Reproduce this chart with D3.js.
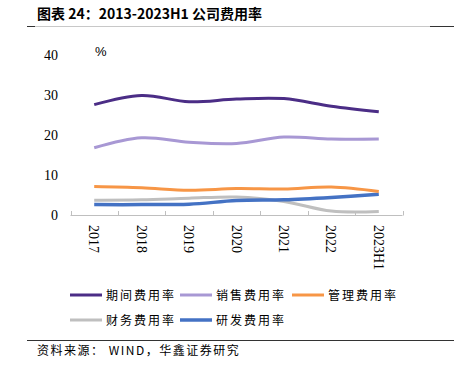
<html>
<head>
<meta charset="utf-8">
<style>
body{margin:0;background:#fff;}
svg{display:block;}
.title{font-family:"Noto Sans CJK SC",sans-serif;font-weight:bold;font-size:14px;fill:#000;}
.num{font-family:"Liberation Serif","Times New Roman",serif;font-size:14px;fill:#000;}
.leg{font-family:"Noto Sans CJK SC",sans-serif;font-size:12px;letter-spacing:2px;fill:#000;}
.src{font-family:"Noto Sans CJK SC",sans-serif;font-size:12px;letter-spacing:1.5px;fill:#000;}
</style>
<script src="https://d3js.org/d3.v7.min.js"></script>
</head>
<body>
<svg id="chart" width="454" height="370"></svg>
<script>
// data
const years = ['2017','2018','2019','2020','2021','2022','2023H1'];
const seriesNames = ['期间费用率','销售费用率','管理费用率','财务费用率','研发费用率'];
const periodRate  = [27.6, 29.9, 28.3, 29.0, 29.1, 27.2, 25.8];
const salesRate   = [16.8, 19.3, 18.2, 17.9, 19.5, 19.0, 19.0];
const adminRate   = [7.1, 6.8, 6.2, 6.6, 6.5, 7.0, 5.9];
const financeRate = [3.7, 3.8, 4.2, 4.5, 3.4, 1.0, 0.9];
const rdRate      = [2.6, 2.6, 2.7, 3.6, 3.8, 4.4, 5.2];
const yTicks = [0, 10, 20, 30, 40];

const colors = ['#4B2D86','#A898D4','#F79646','#BFBFBF','#4472C4'];
const widths = [3, 3, 3, 3, 3.5];
const allSeries = [periodRate, salesRate, adminRate, financeRate, rdRate];

const svg = d3.select('#chart');

// title + rules
svg.append('text').attr('class','title').attr('x',37).attr('y',19)
  .text('图表 24：2013-2023H1 公司费用率');
svg.append('line').attr('x1',35).attr('x2',430).attr('y1',26.5).attr('y2',26.5).attr('stroke','#c8c8c8');
svg.append('line').attr('x1',27).attr('x2',35).attr('y1',26.5).attr('y2',26.5).attr('stroke','#333');
svg.append('line').attr('x1',430).attr('x2',454).attr('y1',26.5).attr('y2',26.5).attr('stroke','#333');

const x = d3.scaleBand().domain(years).range([70.5, 402.5]);
const y = d3.scaleLinear().domain([0, 40]).range([215, 55]);

// y labels (no axis line)
svg.selectAll('.ylab').data(yTicks).enter().append('text')
  .attr('class','num').attr('text-anchor','end')
  .attr('x',58).attr('y',d => y(d) + 5).text(d => d);

svg.append('text').attr('x',95).attr('y',56)
  .style('font-family','"Liberation Sans",Arial,sans-serif').style('font-size','13px')
  .text('%');

// x axis with inside ticks at band edges
const xa = svg.append('g');
xa.append('line').attr('x1',70.5).attr('x2',402.5).attr('y1',215.5).attr('y2',215.5).attr('stroke','#BFBFBF');
const edges = years.map(d => x(d)).concat([x.range()[1]]);
xa.selectAll('.tk').data(edges).enter().append('line')
  .attr('x1',d => Math.round(d) + 0.5).attr('x2',d => Math.round(d) + 0.5)
  .attr('y1',211).attr('y2',215.5).attr('stroke','#BFBFBF');
xa.selectAll('.xl').data(years).enter().append('text')
  .attr('class','num')
  .attr('transform',d => 'translate(' + (x(d) + x.bandwidth()/2 - 5) + ',225) rotate(90)')
  .text(d => d);

// lines
const line = d3.line()
  .x((d, i) => x(years[i]) + x.bandwidth()/2)
  .y(d => y(d))
  .curve(d3.curveCatmullRom.alpha(0.5));

const drawOrder = [3, 4, 2, 1, 0];
drawOrder.forEach(k => {
  svg.append('path').datum(allSeries[k])
    .attr('d', line).attr('fill','none')
    .attr('stroke', colors[k]).attr('stroke-width', widths[k])
    .attr('stroke-linecap','butt');
});

// legend
const legPos = [[70,295],[180,295],[292,295],[70,320],[180,320]];
seriesNames.forEach((n, k) => {
  const g = svg.append('g').attr('transform','translate(' + legPos[k][0] + ',' + legPos[k][1] + ')');
  g.append('line').attr('x1',0).attr('x2',32).attr('y1',0).attr('y2',0)
    .attr('stroke',colors[k]).attr('stroke-width',widths[k]);
  g.append('text').attr('class','leg').attr('x',36).attr('y',5).text(n);
});

// source
svg.append('line').attr('x1',27).attr('x2',454).attr('y1',340.5).attr('y2',340.5).attr('stroke','#333');
svg.append('text').attr('class','src').attr('x',37).attr('y',355)
  .text('资料来源： WIND，华鑫证券研究');
</script>
</body>
</html>
